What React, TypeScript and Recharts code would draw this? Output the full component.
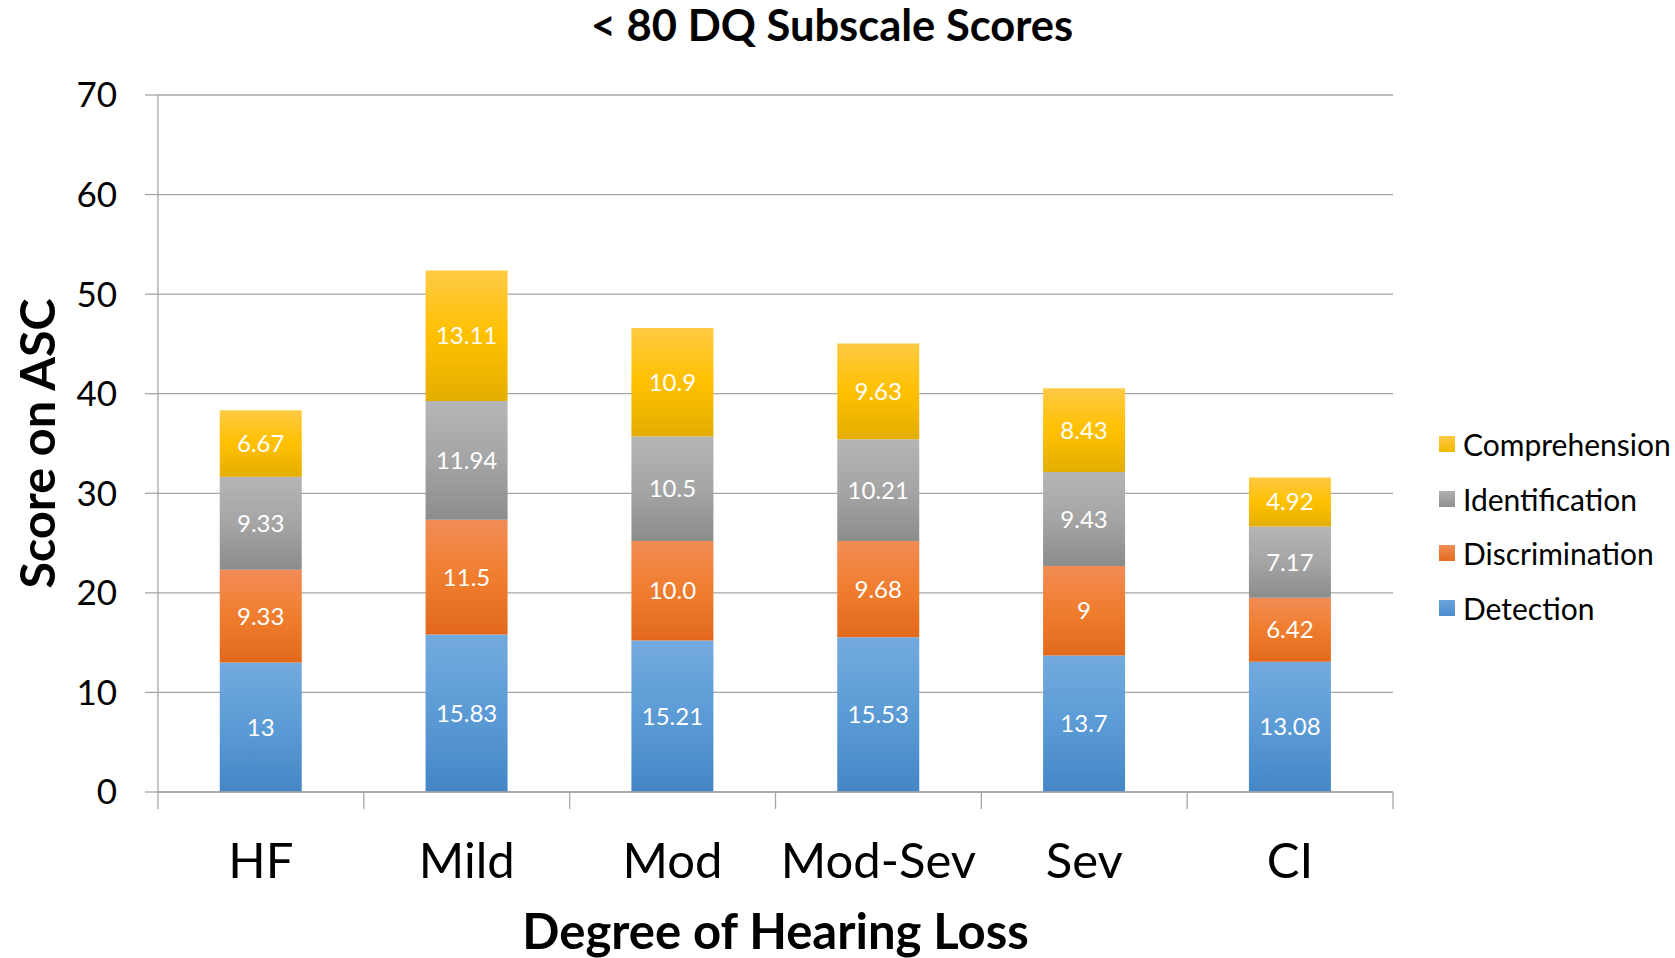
import React from 'react';
import { BarChart, Bar, XAxis, YAxis, CartesianGrid, LabelList, Label, Legend } from 'recharts';

const categories = ['HF', 'Mild', 'Mod', 'Mod-Sev', 'Sev', 'CI'];
const detection = [13, 15.83, 15.21, 15.53, 13.7, 13.08];
const discrimination = [9.33, 11.5, 10.0, 9.68, 9, 6.42];
const discriminationLabels = ['9.33', '11.5', '10.0', '9.68', '9', '6.42'];
const identification = [9.33, 11.94, 10.5, 10.21, 9.43, 7.17];
const comprehension = [6.67, 13.11, 10.9, 9.63, 8.43, 4.92];
const yTicks = [0, 10, 20, 30, 40, 50, 60, 70];

const data = categories.map((c, i) => ({
  category: c,
  detection: detection[i],
  detectionLabel: String(detection[i]),
  discrimination: discrimination[i],
  discriminationLabel: discriminationLabels[i],
  identification: identification[i],
  identificationLabel: String(identification[i]),
  comprehension: comprehension[i],
  comprehensionLabel: String(comprehension[i]),
}));

const series = [
  { key: 'detection', name: 'Detection', grad: 'gBlue', stops: ['#73aadf', '#5b9bd5', '#4486c6'], swatch: ['#6aa4dc', '#4a8bcb'] },
  { key: 'discrimination', name: 'Discrimination', grad: 'gOrange', stops: ['#f28c55', '#f07d2e', '#e2691b'], swatch: ['#f08c55', '#e36b1c'] },
  { key: 'identification', name: 'Identification', grad: 'gGray', stops: ['#b5b5b5', '#a5a5a5', '#8c8c8c'], swatch: ['#b0b0b0', '#8f8f8f'] },
  { key: 'comprehension', name: 'Comprehension', grad: 'gYellow', stops: ['#ffca45', '#ffc000', '#e3ae00'], swatch: ['#ffca45', '#f0b800'] },
];

const W = 1675;
const H = 958;
const PLOT_LEFT = 158;
const PLOT_RIGHT = 1393;
const PLOT_TOP = 95;
const PLOT_BOTTOM = 792;
const GRID = '#a6a6a6';
const FONT = 'Lato';

const XTick = (props: any) => {
  const { x, y, payload, index } = props;
  const band = (PLOT_RIGHT - PLOT_LEFT) / categories.length;
  return (
    <g>
      <line x1={x - band / 2} x2={x - band / 2} y1={y} y2={y + 17} stroke={GRID} strokeWidth={1.3} />
      {index === categories.length - 1 && (
        <line x1={x + band / 2} x2={x + band / 2} y1={y} y2={y + 17} stroke={GRID} strokeWidth={1.3} />
      )}
      <text x={x} y={y + 86} textAnchor="middle" fontSize={49} fill="#000" fontFamily={FONT}>
        {payload.value}
      </text>
    </g>
  );
};

const XTitle = (props: any) => {
  const vb = props.viewBox || {};
  return (
    <text x={vb.x + vb.width / 2} y={vb.y + 157} textAnchor="middle" fontSize={49} fontWeight="bold" fill="#000" fontFamily={FONT}>
      Degree of Hearing Loss
    </text>
  );
};

const YTitle = (props: any) => {
  const vb = props.viewBox || {};
  const cx = vb.x + 55;
  const cy = vb.y + vb.height / 2;
  return (
    <text x={cx} y={cy} transform={`rotate(-90, ${cx}, ${cy})`} textAnchor="middle" fontSize={48.5} fontWeight="bold" fill="#000" fontFamily={FONT}>
      Score on ASC
    </text>
  );
};

const LegendContent = () => (
  <div style={{ fontFamily: FONT, fontSize: 30, color: '#000' }}>
    {[...series].reverse().map((s) => (
      <div key={s.key} style={{ display: 'flex', alignItems: 'center', height: 54.6 }}>
        <div
          style={{
            width: 16,
            height: 16,
            background: `linear-gradient(${s.swatch[0]}, ${s.swatch[1]})`,
            marginRight: 8,
          }}
        />
        <span style={{ whiteSpace: 'nowrap' }}>{s.name}</span>
      </div>
    ))}
  </div>
);

export default function App() {
  return (
    <div style={{ position: 'absolute', left: 0, top: 0, width: W, height: H, background: '#fff', fontFamily: FONT }}>
      <svg width={W} height={90} style={{ position: 'absolute', left: 0, top: 0, zIndex: 2, pointerEvents: 'none', overflow: 'visible' }}>
        <text x={832} y={41} textAnchor="middle" fontSize={43.5} fontWeight="bold" fill="#000" fontFamily={FONT}>
          {'< 80 DQ Subscale Scores'}
        </text>
      </svg>
      <BarChart
        width={W}
        height={H}
        data={data}
        margin={{ top: PLOT_TOP, right: W - PLOT_RIGHT, bottom: H - PLOT_BOTTOM - 166, left: 0 }}
        barCategoryGap="30%"
      >
        <defs>
          {series.map((s) => (
            <linearGradient key={s.grad} id={s.grad} x1="0" y1="0" x2="0" y2="1">
              <stop offset="0%" stopColor={s.stops[0]} />
              <stop offset="50%" stopColor={s.stops[1]} />
              <stop offset="100%" stopColor={s.stops[2]} />
            </linearGradient>
          ))}
        </defs>
        <CartesianGrid horizontal vertical={false} stroke={GRID} strokeWidth={1.3} />
        <XAxis
          dataKey="category"
          height={166}
          interval={0}
          tickSize={0}
          tickMargin={0}
          tickLine={false}
          axisLine={{ stroke: GRID, strokeWidth: 1.3 }}
          tick={<XTick />}
        >
          <Label content={<XTitle />} />
        </XAxis>
        <YAxis
          type="number"
          domain={[0, 70]}
          ticks={yTicks}
          interval={0}
          width={PLOT_LEFT}
          tickSize={13}
          tickMargin={28}
          axisLine={{ stroke: GRID, strokeWidth: 1.3 }}
          tickLine={{ stroke: GRID, strokeWidth: 1.3 }}
          tick={{ fill: '#000', fontSize: 35, fontFamily: FONT }}
        >
          <Label content={<YTitle />} />
        </YAxis>
        <Legend
          layout="horizontal"
          verticalAlign="middle"
          align="center"
          content={<LegendContent />}
          wrapperStyle={{ position: 'absolute', left: 1439, top: 417, width: 236 }}
        />
        {series.map((s) => (
          <Bar
            key={s.key}
            dataKey={s.key}
            name={s.name}
            stackId="a"
            fill={`url(#${s.grad})`}
            isAnimationActive={false}
          >
            <LabelList
              dataKey={`${s.key}Label`}
              position="center"
              fill="#fff"
              fontSize={24}
              fontFamily={FONT}
            />
          </Bar>
        ))}
      </BarChart>
    </div>
  );
}
